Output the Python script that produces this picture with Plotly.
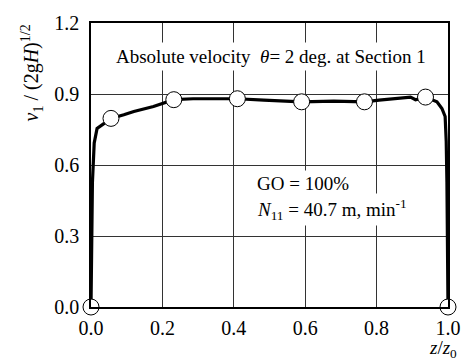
import plotly.graph_objects as go

# Measured points (circles)
z_pts = [0.0, 0.056, 0.232, 0.41, 0.59, 0.766, 0.937, 1.0]
v_pts = [0.0, 0.797, 0.876, 0.880, 0.867, 0.867, 0.887, 0.0]

# Continuous velocity profile (thick line)
z_line = [0.0, 0.002, 0.004, 0.009, 0.017, 0.037, 0.056, 0.092, 0.12, 0.175, 0.207, 0.232,
          0.286, 0.41, 0.484, 0.59, 0.68, 0.766, 0.807, 0.854, 0.895, 0.909, 0.937,
          0.969, 0.983, 0.992, 0.995, 0.997, 0.998, 1.0]
v_line = [0.0, 0.30, 0.527, 0.693, 0.755, 0.776, 0.797, 0.812, 0.826, 0.847, 0.863, 0.876,
          0.880, 0.880, 0.874, 0.867, 0.870, 0.867, 0.874, 0.880, 0.887, 0.876, 0.887,
          0.867, 0.839, 0.805, 0.70, 0.527, 0.124, 0.0]

x_ticks = [0.0, 0.2, 0.4, 0.6, 0.8, 1.0]
y_ticks = [0.0, 0.3, 0.6, 0.9, 1.2]

FONT = "Liberation Serif"

fig = go.Figure()
fig.add_trace(go.Scatter(x=z_line, y=v_line, mode="lines",
                         line=dict(color="black", width=3.2), cliponaxis=False,
                         hoverinfo="skip", showlegend=False))
fig.add_trace(go.Scatter(x=z_pts, y=v_pts, mode="markers",
                         marker=dict(size=16, color="white", line=dict(color="black", width=1)),
                         cliponaxis=False, showlegend=False))

axis_common = dict(showline=True, linecolor="black", linewidth=1.5, mirror=True,
                   showgrid=True, gridcolor="#333333", gridwidth=1, zeroline=False,
                   ticks="", tickfont=dict(family=FONT, size=20, color="black"))

fig.update_xaxes(range=[0, 1], tickvals=x_ticks, ticktext=[f"{t:.1f}" for t in x_ticks],
                 ticklabelstandoff=2, **axis_common)
fig.update_yaxes(range=[0, 1.2], tickvals=y_ticks, ticktext=[f"{t:.1f}" for t in y_ticks],
                 ticklabelstandoff=6, **axis_common)

fig.add_annotation(x=0.504, y=0.934, xref="paper", yref="paper",
                   text="Absolute velocity  <i>θ</i>= 2 deg. at Section 1",
                   showarrow=False, bgcolor="white", borderpad=3,
                   font=dict(family=FONT, size=19, color="black"))
fig.add_annotation(x=0.457, y=0.52, xref="x", yref="y", xanchor="left",
                   text="GO = 100%", showarrow=False, bgcolor="white", borderpad=2,
                   font=dict(family=FONT, size=19, color="black"))
fig.add_annotation(x=0.457, y=0.41, xref="x", yref="y", xanchor="left",
                   text="<i>N</i><sub>11</sub> = 40.7 m, min<sup>-1</sup>", showarrow=False,
                   bgcolor="white", borderpad=2,
                   font=dict(family=FONT, size=19, color="black"))
fig.add_annotation(x=-0.166, y=0.825, xref="paper", yref="paper", textangle=-90,
                   xanchor="center", yanchor="middle",
                   text="<i>v</i><sub>1</sub> / (2g<i>H</i>)<sup>1/2</sup>", showarrow=False,
                   font=dict(family=FONT, size=20, color="black"))
fig.add_annotation(x=0.94, y=-0.148, xref="paper", yref="paper", xanchor="left",
                   yanchor="middle",
                   text="<i>z</i>/<i>z</i><sub>0</sub>", showarrow=False,
                   font=dict(family=FONT, size=19, color="black"))

fig.update_layout(width=473, height=363, margin=dict(l=91, r=21, t=18, b=56),
                  paper_bgcolor="white", plot_bgcolor="white")

fig.write_html("out.html")
